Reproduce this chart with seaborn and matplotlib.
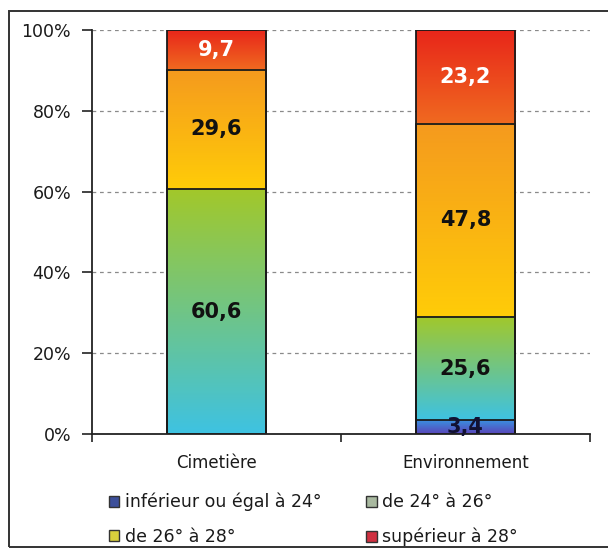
import numpy as np
import pandas as pd
import matplotlib
matplotlib.use("Agg")
import matplotlib.pyplot as plt
import seaborn as sns
from matplotlib.colors import LinearSegmentedColormap
from matplotlib.patches import Rectangle, Patch

# Répartition des températures (% des relevés)
categories = ["Cimetière", "Environnement"]
classes = ["inférieur ou égal à 24°", "de 24° à 26°", "de 26° à 28°", "supérieur à 28°"]
inf_24 = [0.0, 3.4]
de_24_26 = [60.6, 25.6]
de_26_28 = [29.6, 47.8]
sup_28 = [9.7, 23.2]
y_ticks = [0, 20, 40, 60, 80, 100]
y_tick_labels = ["0%", "20%", "40%", "60%", "80%", "100%"]

# vertical gradient (bottom colour, top colour) for each class, plus legend swatch
gradients = [("#5a44b8", "#3a90e0"),
             ("#3ec2e2", "#a2c82a"),
             ("#ffcc08", "#f59a1e"),
             ("#f06a20", "#e8261a")]
swatches = ["#3c4f9a", "#a9b9a0", "#d8cf3c", "#cf3040"]
label_colors = ["#111133", "#111111", "#111111", "white"]

sns.set_theme(style="white")
plt.rcParams["font.family"] = ["DejaVu Sans"]

fig = plt.figure(figsize=(6.08, 5.5), dpi=100)
ax = fig.add_axes([92 / 608, 1 - 434 / 550, 498 / 608, 404 / 550])

layers = np.array([inf_24, de_24_26, de_26_28, sup_28])
tops = np.cumsum(layers, axis=0)
bottoms = tops - layers

# draw the cumulative bars from the tallest down; each segment gets a gradient fill
for k in reversed(range(len(classes))):
    df = pd.DataFrame({"site": categories, "pct": tops[k]})
    n0 = len(ax.patches)
    sns.barplot(data=df, x="site", y="pct", order=categories, width=0.4,
                errorbar=None, color="white", edgecolor="#1a1a1a",
                linewidth=1.3, ax=ax)
    cmap = LinearSegmentedColormap.from_list(f"c{k}", list(gradients[k]))
    grad = np.linspace(0, 1, 256).reshape(-1, 1)
    for i, p in enumerate(ax.patches[n0:]):
        p.set_facecolor("none")
        p.set_zorder(2)
        lo, hi = bottoms[k][i], tops[k][i]
        if hi - lo <= 0:
            continue
        x0, w = p.get_x(), p.get_width()
        ax.imshow(grad, extent=[x0, x0 + w, lo, hi], origin="lower",
                  aspect="auto", cmap=cmap, zorder=1, interpolation="bicubic")

# value labels in each segment
for k in range(len(classes)):
    for i in range(len(categories)):
        v = layers[k][i]
        if v <= 0:
            continue
        ax.text(i, (bottoms[k][i] + tops[k][i]) / 2, f"{v:.1f}".replace(".", ","),
                ha="center", va="center", fontsize=15, fontweight="bold",
                color=label_colors[k], zorder=3)

ax.set_xlim(-0.5, 1.5)
ax.set_ylim(0, 100)
ax.set_xlabel("")
ax.set_ylabel("")
ax.set_yticks(y_ticks, y_tick_labels)
ax.set_xticks([0, 1], categories)
ax.set_xticks([-0.5, 0.5, 1.5], minor=True)
ax.tick_params(axis="y", direction="out", length=7, width=1.2, color="#222",
               labelsize=12.5, pad=8, left=True, labelcolor="#1a1a1a")
ax.tick_params(axis="x", which="major", length=0, labelsize=12, pad=14.5,
               labelcolor="#1a1a1a")
ax.tick_params(axis="x", which="minor", direction="out", length=6, width=1.2,
               color="#222", bottom=True)
for s in ["top", "right"]:
    ax.spines[s].set_visible(False)
for s in ["left", "bottom"]:
    ax.spines[s].set_color("#222")
    ax.spines[s].set_linewidth(1.3)
ax.yaxis.grid(True, linestyle=(0, (3, 3)), color="#8a8a8a", linewidth=0.9)
ax.set_axisbelow(True)

# legend, two per row
handles = [Patch(facecolor=swatches[k], edgecolor="#333", linewidth=1.0, label=classes[k])
           for k in range(len(classes))]
order = [0, 2, 1, 3]
leg = fig.legend([handles[j] for j in order], [classes[j] for j in order],
                 ncol=2, frameon=False, loc="upper left",
                 bbox_to_anchor=(102 / 608, 1 - 486 / 550), fontsize=12.5,
                 handlelength=0.6, handleheight=0.6, handletextpad=0.3,
                 columnspacing=2.6, labelspacing=0.95, borderaxespad=0)
for t in leg.get_texts():
    t.set_color("#1a1a1a")

# outer frame
fig.add_artist(Rectangle((9 / 608, 1 - 547 / 550), 1.2, (547 - 11) / 550,
                         transform=fig.transFigure, fill=False,
                         edgecolor="#333", linewidth=1.4))

fig.savefig("out.png", dpi=100)
